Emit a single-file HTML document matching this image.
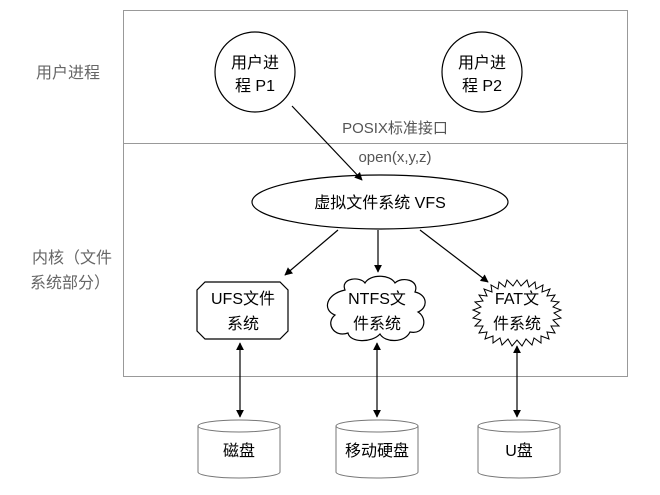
<!DOCTYPE html>
<html><head><meta charset="utf-8"><style>
body{margin:0;background:#fff;}
text{font-family:"Liberation Sans","Noto Sans CJK SC",sans-serif;}
</style></head><body>
<svg width="660" height="490" viewBox="0 0 660 490" xmlns="http://www.w3.org/2000/svg">
<defs>
<marker id="a" viewBox="0 0 10 10" refX="9" refY="5" markerWidth="8" markerHeight="8" orient="auto-start-reverse" markerUnits="userSpaceOnUse"><path d="M0,0 L10,5 L0,10 z" fill="#000"/></marker>
</defs>
<rect x="123.5" y="10.5" width="504" height="366" fill="none" stroke="#999"/>
<line x1="123" y1="143.5" x2="627" y2="143.5" stroke="#999"/>
<g fill="#666" font-size="16" text-anchor="middle">
<text x="68" y="78">用户进程</text>
<text x="72" y="263">内核（文件</text>
<text x="70" y="288">系统部分）</text>
</g>
<g fill="#555" font-size="15" text-anchor="middle">
<text x="395" y="133">POSIX标准接口</text>
<text x="395" y="162">open(x,y,z)</text>
</g>
<g stroke="#000" stroke-width="1.2" fill="#fff">
<circle cx="255" cy="72" r="40"/>
<circle cx="482" cy="72" r="40"/>
<ellipse cx="380" cy="202" rx="128" ry="27"/>
<path d="M205,282 H280 L288,290 V331 L280,339 H205 L197,331 V290 Z"/>
<path d="M345,290 C340,278 360,276 365,283 C370,274 390,274 395,283 C402,276 420,280 415,292 C428,295 428,308 418,312 C428,318 425,335 410,332 C405,343 385,343 380,334 C372,343 350,343 348,333 C334,338 325,323 335,315 C322,310 326,294 345,290 Z"/>
</g>
<polygon fill="#fff" stroke="#000" stroke-width="1" points="
517,280 521,286 527,280 529,287 535,282 536,289 543,285 542,292 550,289 547,296 555,295 551,301 559,302 553,307 561,310 554,313 561,318 553,320 559,326 551,326 555,333 547,332 549,339 541,336 541,343 534,338 532,345 526,339 522,346 517,340 512,346 508,339 502,345 500,338 493,343 493,336 485,339 487,332 479,333 483,326 475,326 481,320 473,318 480,313 473,310 481,307 475,302 483,301 479,295 487,296 484,289 492,292 491,285 498,289 499,282 505,287 507,280 513,286"/>
<g fill="#000" font-size="16" text-anchor="middle">
<text x="255" y="68">用户进</text><text x="255" y="91">程 P1</text>
<text x="482" y="68">用户进</text><text x="482" y="91">程 P2</text>
<text x="380" y="208">虚拟文件系统 VFS</text>
<text x="243" y="304">UFS文件</text><text x="243" y="329">系统</text>
<text x="377" y="304">NTFS文</text><text x="377" y="329">件系统</text>
<text x="517" y="304">FAT文</text><text x="517" y="329">件系统</text>
</g>
<g stroke="#000" stroke-width="1.2" fill="none" marker-end="url(#a)">
<line x1="292" y1="106" x2="362" y2="180"/>
<line x1="338" y1="230" x2="285" y2="275"/>
<line x1="378" y1="230" x2="378" y2="272"/>
<line x1="420" y1="230" x2="488" y2="282"/>
<line x1="240" y1="343" x2="240" y2="417" marker-start="url(#a)"/>
<line x1="377" y1="343" x2="377" y2="417" marker-start="url(#a)"/>
<line x1="517" y1="346" x2="517" y2="417" marker-start="url(#a)"/>
</g>
<g stroke="#777" stroke-width="1" fill="#fff">
<path d="M198,426 V472 A41,6 0 0 0 280,472 V426"/><ellipse cx="239" cy="426" rx="41" ry="6"/>
<path d="M336,426 V472 A41,6 0 0 0 418,472 V426"/><ellipse cx="377" cy="426" rx="41" ry="6"/>
<path d="M478,426 V472 A41,6 0 0 0 560,472 V426"/><ellipse cx="519" cy="426" rx="41" ry="6"/>
</g>
<g fill="#000" font-size="16" text-anchor="middle">
<text x="239" y="456">磁盘</text>
<text x="377" y="456">移动硬盘</text>
<text x="519" y="456">U盘</text>
</g>
</svg>
</body></html>
